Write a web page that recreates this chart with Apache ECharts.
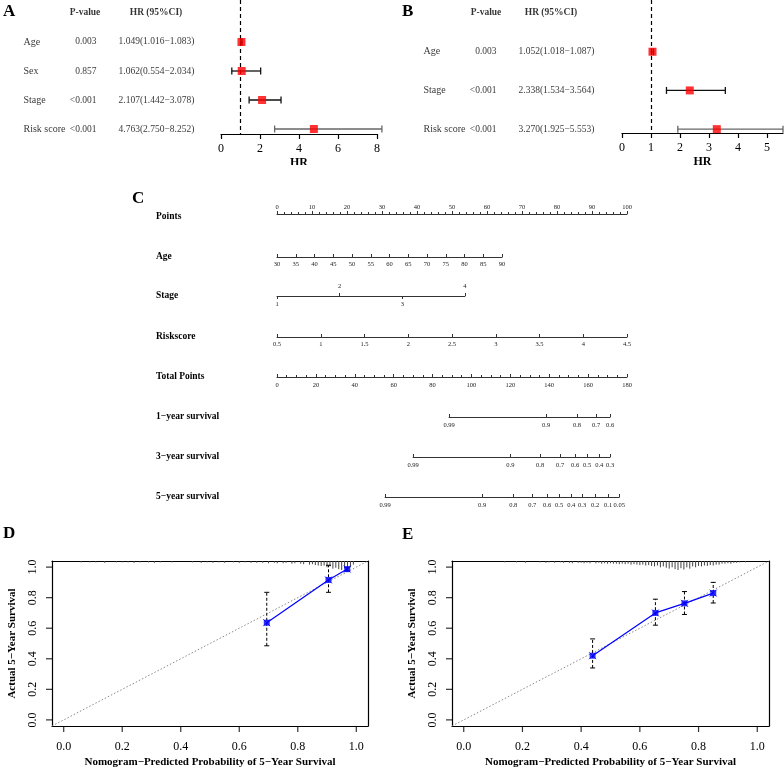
<!DOCTYPE html>
<html><head><meta charset="utf-8">
<script src="https://cdn.jsdelivr.net/npm/echarts@6/dist/echarts.min.js"></script>
<style>html,body{margin:0;padding:0;background:#fff}#c{width:784px;height:773px}</style>
</head><body><div id="c"></div>
<script>
// ---------------- DATA ----------------
// Panel A (univariate Cox)
const aVars = ['Age', 'Sex', 'Stage', 'Risk score'];
const aP = ['0.003', '0.857', '<0.001', '<0.001'];
const aHR = [1.049, 1.062, 2.107, 4.763];
const aLo = [1.016, 0.554, 1.442, 2.750];
const aHi = [1.083, 2.034, 3.078, 8.252];
const aTicks = [0, 2, 4, 6, 8];
// Panel B (multivariate Cox)
const bVars = ['Age', 'Stage', 'Risk score'];
const bP = ['0.003', '<0.001', '<0.001'];
const bHR = [1.052, 2.338, 3.270];
const bLo = [1.018, 1.534, 1.925];
const bHi = [1.087, 3.564, 5.553];
const bTicks = [0, 1, 2, 3, 4, 5];
// Panel C (nomogram)
const nomoLabels = ['Points', 'Age', 'Stage', 'Riskscore', 'Total Points', '1\u2212year survival', '3\u2212year survival', '5\u2212year survival'];
const pointsRange = [0, 100];
const ageRange = [30, 90], agePoints = [0, 64.3];
const stageLevels = [1, 2, 3, 4], stagePoints = [0, 53.7];
const riskRange = [0.5, 4.5], riskPoints = [0, 100];
const totalRange = [0, 180];
const surv1Labels = ['0.99', '0.9', '0.8', '0.7', '0.6'];
const surv1Pos = [88.5, 138.4, 154.3, 164.1, 171.3];
const surv3Labels = ['0.99', '0.9', '0.8', '0.7', '0.6', '0.5', '0.4', '0.3'];
const surv3Pos = [70.0, 120.0, 135.3, 145.6, 153.3, 159.5, 165.7, 171.3];
const surv5Labels = ['0.99', '0.9', '0.8', '0.7', '0.6', '0.5', '0.4', '0.3', '0.2', '0.1', '0.05'];
const surv5Pos = [55.6, 105.5, 121.5, 131.3, 138.9, 145.1, 151.3, 156.9, 163.6, 170.3, 176.0];
// Panel D (calibration, training)
const dPred = [0.694, 0.905, 0.969];
const dObs = [0.636, 0.916, 0.987];
const dLo = [0.485, 0.835, 0.975];
const dHi = [0.835, 1.012, 0.995];
const dRugX = [0.06,0.09,0.11,0.14,0.18,0.20,0.22,0.24,0.26,0.29,0.31,0.33,0.37,0.44,0.47,0.49,0.51,0.53,0.55,0.58,0.60,0.62,0.64,0.66,0.68,0.70,0.72,0.73,0.75,0.76,0.78,0.79,0.81,0.82,0.84,0.85,0.86,0.87,0.88,0.89,0.90,0.91,0.92,0.93,0.94,0.95,0.96,0.97,0.98,0.99];
const dRugH = [0.15,0.15,0.15,0.2,0.15,0.15,0.15,0.2,0.15,0.15,0.2,0.15,0.15,0.15,0.2,0.15,0.2,0.15,0.2,0.15,0.2,0.15,0.2,0.2,0.2,0.25,0.2,0.25,0.25,0.2,0.3,0.25,0.3,0.35,0.4,0.35,0.45,0.5,0.55,0.5,0.7,0.6,0.85,0.75,0.9,1.0,0.8,0.9,0.7,0.4];
// Panel E (calibration, validation)
const ePred = [0.439, 0.653, 0.752, 0.850];
const eObs = [0.420, 0.700, 0.763, 0.830];
const eLo = [0.340, 0.620, 0.690, 0.765];
const eHi = [0.530, 0.790, 0.840, 0.900];
const eRugX = [0.14,0.18,0.21,0.26,0.28,0.29,0.31,0.33,0.34,0.36,0.37,0.39,0.40,0.41,0.42,0.43,0.45,0.46,0.47,0.48,0.49,0.50,0.51,0.52,0.53,0.54,0.55,0.56,0.57,0.58,0.59,0.60,0.61,0.62,0.63,0.64,0.65,0.66,0.67,0.68,0.69,0.70,0.71,0.72,0.73,0.74,0.75,0.76,0.77,0.78,0.79,0.80,0.81,0.82,0.83,0.84,0.85,0.86,0.87,0.88,0.89,0.90,0.91,0.92,0.93,0.94,0.96];
const eRugH = [0.15,0.15,0.2,0.15,0.2,0.15,0.2,0.15,0.2,0.2,0.25,0.2,0.2,0.25,0.2,0.25,0.25,0.2,0.3,0.25,0.3,0.25,0.3,0.3,0.35,0.3,0.35,0.3,0.4,0.35,0.4,0.45,0.4,0.5,0.45,0.55,0.6,0.5,0.7,0.6,0.75,0.85,0.7,0.9,1.0,0.8,0.95,0.7,0.85,0.6,0.7,0.55,0.6,0.5,0.55,0.45,0.5,0.4,0.4,0.3,0.3,0.25,0.3,0.2,0.2,0.15,0.15];
const calTicks = [0, 0.2, 0.4, 0.6, 0.8, 1.0];
const calLim = [-0.04, 1.04];

// ---------------- LAYOUT / BUILD ----------------
const FONT = 'Liberation Serif';
const grids = [], xAxes = [], yAxes = [], series = [], graphics = [];
function grid(g) { grids.push(g); return grids.length - 1; }

function panelLetter(t, x, y) {
  graphics.push({type: 'text', x: x, y: y, style: {text: t, font: 'bold 17px "' + FONT + '"', fill: '#000', textVerticalAlign: 'top'}});
}

// ---------- Forest plots ----------
function forest(o) {
  const n = o.vars.length;
  const gi = grid({left: o.left, top: 0, width: o.width, height: o.height});
  const xi = xAxes.length;
  xAxes.push({gridIndex: gi, type: 'value', min: 0, max: o.xMax, position: 'bottom',
    axisLine: {show: true, onZero: false, lineStyle: {color: '#000', width: 1.2}},
    axisTick: {show: true, customValues: o.ticks, length: 5, lineStyle: {color: '#000', width: 1.2}},
    axisLabel: {show: true, customValues: o.ticks, margin: 9, fontFamily: FONT, fontSize: 12, color: '#000'},
    splitLine: {show: false},
    name: 'HR', nameLocation: 'middle', nameGap: 23,
    nameTextStyle: {fontFamily: FONT, fontSize: 12, fontWeight: 'bold', color: '#000'}});
  const yi = yAxes.length;
  yAxes.push({gridIndex: gi, type: 'value', inverse: true, min: o.yMin, max: o.yMax, show: false});
  const rows = o.vars.map((_, i) => i + 1);
  series.push({type: 'custom', xAxisIndex: xi, yAxisIndex: yi, clip: false, z: 3,
    data: rows.map((r, i) => [o.lo[i], o.hi[i], r, i === n - 1 ? 1 : 0]),
    renderItem: function (params, api) {
      const p1 = api.coord([api.value(0), api.value(2)]);
      const p2 = api.coord([api.value(1), api.value(2)]);
      const col = api.value(3) ? '#666' : '#111';
      const st = {stroke: col, lineWidth: 1.3};
      return {type: 'group', children: [
        {type: 'line', shape: {x1: p1[0], y1: p1[1], x2: p2[0], y2: p2[1]}, style: st},
        {type: 'line', shape: {x1: p1[0], y1: p1[1] - 3.5, x2: p1[0], y2: p1[1] + 3.5}, style: st},
        {type: 'line', shape: {x1: p2[0], y1: p2[1] - 3.5, x2: p2[0], y2: p2[1] + 3.5}, style: st}
      ]};
    }});
  series.push({type: 'scatter', xAxisIndex: xi, yAxisIndex: yi, z: 5, clip: false,
    symbol: 'rect', symbolSize: 8, itemStyle: {color: '#FF0000'},
    data: rows.map((r, i) => [o.hr[i], r]),
    markLine: {silent: true, symbol: ['none', 'none'], label: {show: false},
      lineStyle: {color: '#000', type: [4, 3], width: 1.2}, data: [{xAxis: 1}]}});
  const tg = grid({left: 0, top: 0, width: 784, height: o.height});
  const txi = xAxes.length;
  xAxes.push({gridIndex: tg, type: 'value', min: 0, max: 784, show: false});
  const tyi = yAxes.length;
  yAxes.push({gridIndex: tg, type: 'value', inverse: true, min: o.yMin, max: o.yMax, show: false});
  const items = [];
  const base = {fontFamily: FONT, fontSize: 9.5, color: '#000', distance: 0};
  items.push({value: [o.cols.hp, 0], label: Object.assign({show: true, formatter: 'P-value', position: 'inside', fontWeight: 'bold'}, base)});
  items.push({value: [o.cols.hh, 0], label: Object.assign({show: true, formatter: 'HR (95%CI)', position: 'inside', fontWeight: 'bold'}, base)});
  rows.forEach((r, i) => {
    items.push({value: [o.cols.name, r], label: Object.assign({show: true, formatter: o.vars[i], position: 'right'}, base, {fontSize: 10})});
    items.push({value: [o.cols.p, r], label: Object.assign({show: true, formatter: o.p[i], position: 'left'}, base)});
    const txt = o.hr[i].toFixed(3) + '(' + o.lo[i].toFixed(3) + '\u2212' + o.hi[i].toFixed(3) + ')';
    items.push({value: [o.cols.hr, r], label: Object.assign({show: true, formatter: txt, position: 'right'}, base)});
  });
  series.push({type: 'scatter', xAxisIndex: txi, yAxisIndex: tyi, symbolSize: 1,
    itemStyle: {color: 'rgba(0,0,0,0)'}, data: items, silent: true});
}

forest({vars: aVars, p: aP, hr: aHR, lo: aLo, hi: aHi, ticks: aTicks, xMax: 8,
  left: 221, width: 156, height: 134, yMin: -0.448, yMax: 4.172,
  cols: {name: 23, p: 97, hr: 118, hp: 85, hh: 156}});
forest({vars: bVars, p: bP, hr: bHR, lo: bLo, hi: bHi, ticks: bTicks, xMax: 5.553,
  left: 622, width: 161, height: 133, yMin: -0.336, yMax: 3.1,
  cols: {name: 423, p: 497, hr: 518, hp: 486, hh: 551}});
panelLetter('A', 3, 3);
panelLetter('B', 402, 3);
// partially hidden "HR" title in A (as in the reference)
graphics.push({type: 'rect', shape: {x: 285, y: 165, width: 35, height: 10}, style: {fill: '#fff'}, z: 100});

// ---------- Nomogram ----------
const NL = 277, NW = 350;
const ptPx = NW / (pointsRange[1] - pointsRange[0]);
const totPx = NW / (totalRange[1] - totalRange[0]);
const rowY = [214, 257, 296, 337, 377, 417, 457, 497];
const nLine = {show: true, onZero: false, lineStyle: {color: '#333', width: 1}};
const nLbl = {fontFamily: FONT, fontSize: 6.5, color: '#222'};
function hiddenY(gi) { yAxes.push({gridIndex: gi, type: 'value', min: 0, max: 1, show: false}); }

let gi = grid({left: NL, top: rowY[0], width: NW, height: 1});
xAxes.push({gridIndex: gi, type: 'value', position: 'top', min: pointsRange[0], max: pointsRange[1], interval: 10,
  axisLine: nLine, axisTick: {show: true, length: 3, lineStyle: {color: '#333'}},
  minorTick: {show: true, splitNumber: 5, length: 2, lineStyle: {color: '#333'}},
  axisLabel: Object.assign({margin: 3}, nLbl), splitLine: {show: false}});
hiddenY(gi);
gi = grid({left: NL + agePoints[0] * ptPx, top: rowY[1] - 1, width: (agePoints[1] - agePoints[0]) * ptPx, height: 1});
xAxes.push({gridIndex: gi, type: 'value', position: 'bottom', min: ageRange[0], max: ageRange[1], interval: 5,
  axisLine: nLine, axisTick: {show: true, inside: true, length: 3, lineStyle: {color: '#333'}},
  axisLabel: Object.assign({margin: 4}, nLbl), splitLine: {show: false}});
hiddenY(gi);
const stageBelow = stageLevels.filter((_, i) => i % 2 === 0);
const stageAbove = stageLevels.filter((_, i) => i % 2 === 1);
gi = grid({left: NL + stagePoints[0] * ptPx, top: rowY[2] - 1, width: (stagePoints[1] - stagePoints[0]) * ptPx, height: 1});
xAxes.push({gridIndex: gi, type: 'value', position: 'bottom', min: stageLevels[0], max: stageLevels[stageLevels.length - 1],
  axisLine: nLine, axisTick: {show: true, customValues: stageBelow, length: 3, lineStyle: {color: '#333'}},
  axisLabel: Object.assign({customValues: stageBelow, margin: 5}, nLbl), splitLine: {show: false}});
xAxes.push({gridIndex: gi, type: 'value', position: 'top', min: stageLevels[0], max: stageLevels[stageLevels.length - 1],
  axisLine: {show: false}, axisTick: {show: true, customValues: stageAbove, length: 3, lineStyle: {color: '#333'}},
  axisLabel: Object.assign({customValues: stageAbove, margin: 5}, nLbl), splitLine: {show: false}});
hiddenY(gi);
gi = grid({left: NL + riskPoints[0] * ptPx, top: rowY[3] - 1, width: (riskPoints[1] - riskPoints[0]) * ptPx, height: 1});
xAxes.push({gridIndex: gi, type: 'value', position: 'bottom', min: riskRange[0], max: riskRange[1], interval: 0.5,
  axisLine: nLine, axisTick: {show: true, inside: true, length: 3, lineStyle: {color: '#333'}},
  axisLabel: Object.assign({margin: 4}, nLbl), splitLine: {show: false}});
hiddenY(gi);
gi = grid({left: NL, top: rowY[4] - 1, width: NW, height: 1});
xAxes.push({gridIndex: gi, type: 'value', position: 'bottom', min: totalRange[0], max: totalRange[1], interval: 20,
  axisLine: nLine, axisTick: {show: true, inside: true, length: 3, lineStyle: {color: '#333'}},
  minorTick: {show: true, splitNumber: 4, length: 2, lineStyle: {color: '#333'}},
  axisLabel: Object.assign({margin: 5}, nLbl), splitLine: {show: false}});
hiddenY(gi);
function survAxis(y, labels, pos) {
  const g = grid({left: NL + (pos[0] - totalRange[0]) * totPx, top: y - 1, width: (pos[pos.length - 1] - pos[0]) * totPx, height: 1});
  xAxes.push({gridIndex: g, type: 'value', position: 'bottom', min: pos[0], max: pos[pos.length - 1],
    axisLine: nLine, axisTick: {show: true, inside: true, customValues: pos, length: 3, lineStyle: {color: '#333'}},
    axisLabel: Object.assign({customValues: pos, margin: 5, formatter: function (v, i) {
      const k = pos.indexOf(v); return k >= 0 ? labels[k] : (labels[i] || ''); }}, nLbl),
    splitLine: {show: false}});
  hiddenY(g);
}
survAxis(rowY[5], surv1Labels, surv1Pos);
survAxis(rowY[6], surv3Labels, surv3Pos);
survAxis(rowY[7], surv5Labels, surv5Pos);
nomoLabels.forEach((t, i) => {
  graphics.push({type: 'text', x: 156, y: rowY[i] + (i === 0 ? 3 : 0), style: {text: t, font: 'bold 9.5px "' + FONT + '"', fill: '#000', textVerticalAlign: 'middle'}});
});
panelLetter('C', 132, 190);

// ---------- Calibration ----------
function calib(o) {
  const g = grid({left: o.left, top: 561, width: o.width, height: 165});
  const axLine = {show: true, onZero: false, lineStyle: {color: '#000', width: 1.2}};
  const xi = xAxes.length;
  xAxes.push({gridIndex: g, type: 'value', min: calLim[0], max: calLim[1], position: 'bottom',
    axisLine: axLine, axisTick: {show: false},
    axisLabel: {show: true, customValues: calTicks, formatter: v => v.toFixed(1), margin: 15, fontFamily: FONT, fontSize: 12, color: '#000'},
    splitLine: {show: false},
    name: 'Nomogram\u2212Predicted Probability of 5\u2212Year Survival', nameLocation: 'middle', nameGap: 31,
    nameTextStyle: {fontFamily: FONT, fontSize: 11, fontWeight: 'bold', color: '#000'}});
  xAxes.push({gridIndex: g, type: 'value', min: calLim[0], max: calLim[1], position: 'top',
    axisLine: axLine, axisTick: {show: false}, axisLabel: {show: false}, splitLine: {show: false}});
  const yi = yAxes.length;
  yAxes.push({gridIndex: g, type: 'value', min: calLim[0], max: calLim[1], position: 'left',
    axisLine: axLine, axisTick: {show: false},
    axisLabel: {show: true, customValues: calTicks, formatter: v => v.toFixed(1), rotate: 90, margin: 13, fontFamily: FONT, fontSize: 12, color: '#000'},
    splitLine: {show: false},
    name: 'Actual 5\u2212Year Survival', nameLocation: 'middle', nameGap: 34, nameRotate: 90,
    nameTextStyle: {fontFamily: FONT, fontSize: 11, fontWeight: 'bold', color: '#000'}});
  yAxes.push({gridIndex: g, type: 'value', min: calLim[0], max: calLim[1], position: 'right',
    axisLine: axLine, axisTick: {show: false}, axisLabel: {show: false}, splitLine: {show: false}});
  // axis tick marks outside the box, as small rect symbols placed through the axis scales
  series.push({type: 'scatter', xAxisIndex: xi, yAxisIndex: yi, z: 10, clip: false, silent: true,
    symbol: 'rect', symbolSize: [1.2, 6], symbolOffset: [0, 3], itemStyle: {color: '#000'},
    data: calTicks.map(t => [t, calLim[0]])});
  series.push({type: 'scatter', xAxisIndex: xi, yAxisIndex: yi, z: 10, clip: false, silent: true,
    symbol: 'rect', symbolSize: [6, 1.2], symbolOffset: [-3, 0], itemStyle: {color: '#000'},
    data: calTicks.map(t => [calLim[0], t])});
  series.push({type: 'line', xAxisIndex: xi, yAxisIndex: yi, symbol: 'none', silent: true, z: 1,
    data: [[calLim[0], calLim[0]], [calLim[1], calLim[1]]],
    lineStyle: {color: '#888', width: 1, type: [1.5, 2]}});
  series.push({type: 'custom', xAxisIndex: xi, yAxisIndex: yi, z: 2, silent: true,
    data: o.rugX.map((x, i) => [x, o.rugH[i]]),
    renderItem: function (params, api) {
      const p = api.coord([api.value(0), calLim[1]]);
      return {type: 'line', shape: {x1: p[0], y1: p[1], x2: p[0], y2: p[1] + api.value(1) * 9},
        style: {stroke: '#444', lineWidth: 1}};
    }});
  series.push({type: 'custom', xAxisIndex: xi, yAxisIndex: yi, z: 3, clip: false,
    data: o.pred.map((x, i) => [x, o.lo[i], o.hi[i]]),
    renderItem: function (params, api) {
      const a = api.coord([api.value(0), api.value(1)]);
      const b = api.coord([api.value(0), api.value(2)]);
      const st = {stroke: '#000', lineWidth: 1, lineDash: [3, 2]};
      return {type: 'group', children: [
        {type: 'line', shape: {x1: a[0], y1: a[1], x2: b[0], y2: b[1]}, style: st},
        {type: 'line', shape: {x1: a[0] - 2.5, y1: a[1], x2: a[0] + 2.5, y2: a[1]}, style: {stroke: '#000', lineWidth: 1}},
        {type: 'line', shape: {x1: b[0] - 2.5, y1: b[1], x2: b[0] + 2.5, y2: b[1]}, style: {stroke: '#000', lineWidth: 1}}
      ]};
    }});
  const pts = o.pred.map((x, i) => [x, o.obs[i]]);
  series.push({type: 'line', xAxisIndex: xi, yAxisIndex: yi, symbol: 'none', z: 4,
    data: pts, lineStyle: {color: '#0000FF', width: 1.2}});
  series.push({type: 'scatter', xAxisIndex: xi, yAxisIndex: yi, z: 5, symbol: 'rect', symbolSize: 6,
    itemStyle: {color: '#0000FF'}, data: pts});
  series.push({type: 'scatter', xAxisIndex: xi, yAxisIndex: yi, z: 6,
    symbol: 'path://M0,0L10,10M10,0L0,10', symbolSize: 7,
    itemStyle: {color: 'rgba(0,0,0,0)', borderColor: '#0000FF', borderWidth: 1}, data: pts});
}
calib({left: 52, width: 316, pred: dPred, obs: dObs, lo: dLo, hi: dHi, rugX: dRugX, rugH: dRugH});
calib({left: 452, width: 317, pred: ePred, obs: eObs, lo: eLo, hi: eHi, rugX: eRugX, rugH: eRugH});
panelLetter('D', 3, 525);
panelLetter('E', 402, 526);

const chart = echarts.init(document.getElementById('c'), null, {renderer: 'canvas', width: 784, height: 773});
chart.setOption({
  animation: false,
  backgroundColor: '#fff',
  textStyle: {fontFamily: FONT},
  grid: grids, xAxis: xAxes, yAxis: yAxes, series: series, graphic: graphics
});
</script>
</body></html>
